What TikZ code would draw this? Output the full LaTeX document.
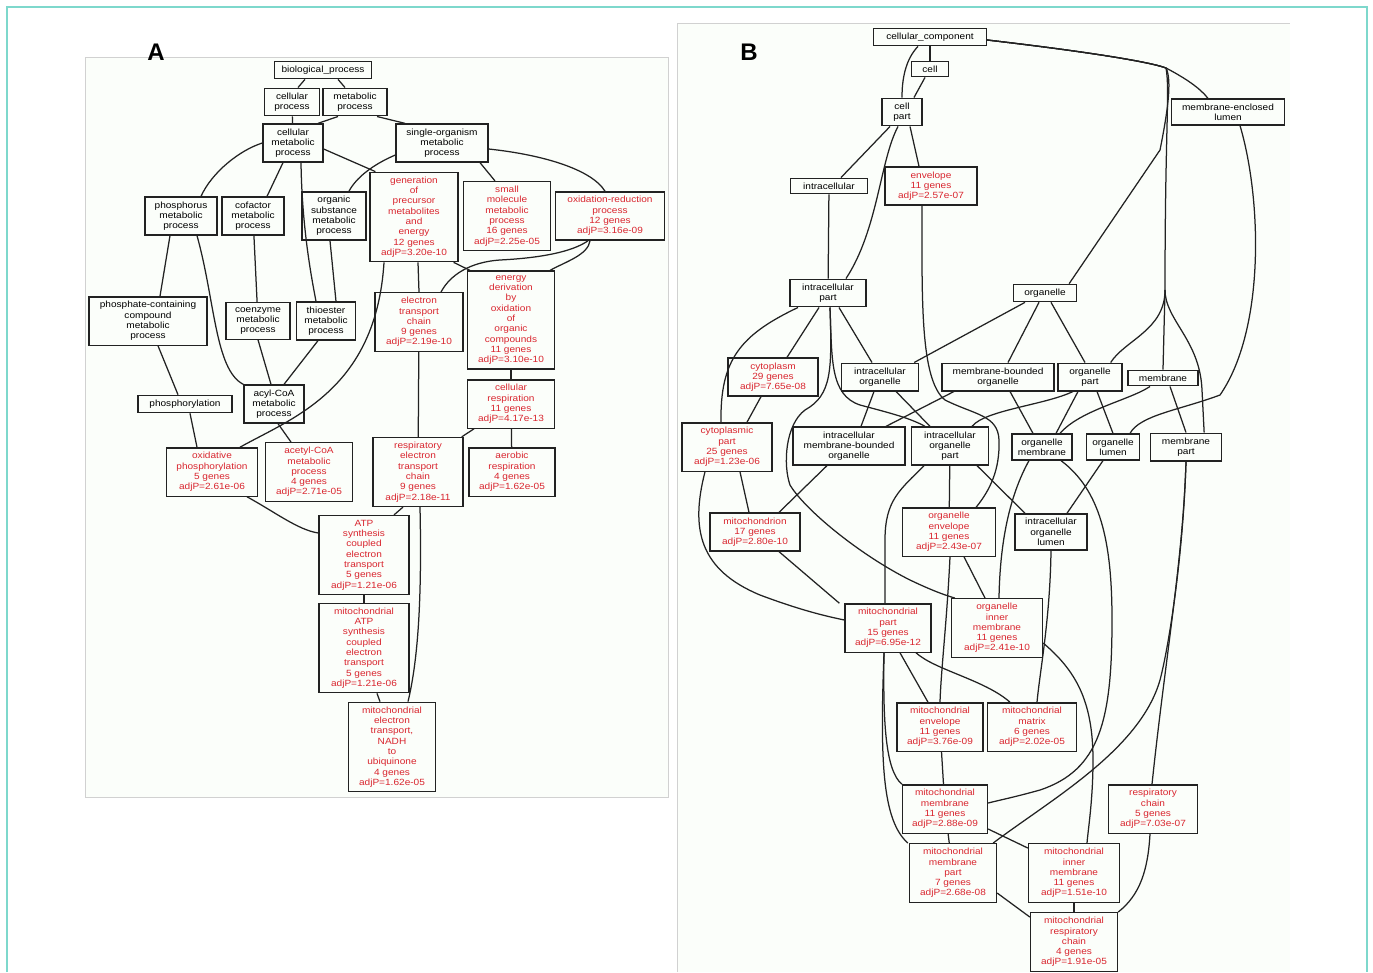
\documentclass[tikz,border=0pt]{standalone}
\usepackage{fontspec}
\newfontfamily\gofont{Liberation Sans}[FakeStretch=1.12]
\newfontfamily\labfont{Liberation Sans}
\usepackage{xcolor}
\definecolor{sigred}{HTML}{D9262F}
\definecolor{boxline}{HTML}{222222}
\definecolor{frameteal}{HTML}{7ED8CC}
\definecolor{panelbg}{HTML}{FBFEFA}
\usepackage{tikz}

\begin{document}
\begin{tikzpicture}[x=1pt, y=1pt,
  term/.style={draw=boxline, line width=1.3pt, align=center, inner xsep=2pt, inner ysep=4.5pt,
    font=\gofont\fontsize{9}{10.3}\selectfont, minimum width=#1},
  hit/.style={term=#1, text=sigred},
  link/.style={draw=boxline, line width=1.25pt},
  panel/.style={font=\labfont\bfseries\fontsize{24}{24}\selectfont}
]
  \useasboundingbox (0,0) rectangle (1373,-972);

  % Frame and panels
  \draw[frameteal, line width=2pt] (7,-972) -- (7,-7) -- (1367,-7) -- (1367,-972);
  \draw[black!18, fill=panelbg, line width=0.6pt] (85,-57) rectangle (668,-797);
  \fill[panelbg] (677,-23) rectangle (1290,-972);
  \draw[black!18, line width=0.6pt] (677,-972) -- (677,-23) -- (1290,-23);
  \node[panel] (labA) at (156,-52) {A};
  \node[panel] (labB) at (749,-52) {B};

  % A: biological process
  \node[term=97] (bp) at (323,-70) {biological\_process};
  \node[term=55] (cp) at (292,-102) {cellular\\process};
  \node[term=64] (mp) at (355,-102) {metabolic\\process};
  \node[term=60] (cmp) at (293,-143) {cellular\\metabolic\\process};
  \node[term=92] (somp) at (442,-143) {single-organism\\metabolic\\process};
  \node[term=72] (phos) at (181,-216) {phosphorus\\metabolic\\process};
  \node[term=62] (cof) at (253,-216) {cofactor\\metabolic\\process};
  \node[term=64] (orgs) at (334,-216) {organic\\substance\\metabolic\\process};
  \node[hit=88] (gen) at (414,-217) {generation\\of\\precursor\\metabolites\\and\\energy\\12 genes\\adjP=3.20e-10};
  \node[hit=87] (smm) at (507,-216) {small\\molecule\\metabolic\\process\\16 genes\\adjP=2.25e-05};
  \node[hit=109] (oxr) at (610,-216) {oxidation-reduction\\process\\12 genes\\adjP=3.16e-09};
  \node[term=118] (phc) at (148,-321) {phosphate-containing\\compound\\metabolic\\process};
  \node[term=64] (coe) at (258,-321) {coenzyme\\metabolic\\process};
  \node[term=59] (thio) at (326,-321) {thioester\\metabolic\\process};
  \node[hit=88] (etc) at (419,-322) {electron\\transport\\chain\\9 genes\\adjP=2.19e-10};
  \node[hit=87] (ender) at (511,-320) {energy\\derivation\\by\\oxidation\\of\\organic\\compounds\\11 genes\\adjP=3.10e-10};
  \node[term=94] (phosn) at (185,-404) {phosphorylation};
  \node[term=60] (acyl) at (274,-404) {acyl-CoA\\metabolic\\process};
  \node[hit=87] (cresp) at (511,-404) {cellular\\respiration\\11 genes\\adjP=4.17e-13};
  \node[hit=91] (oxph) at (212,-472) {oxidative\\phosphorylation\\5 genes\\adjP=2.61e-06};
  \node[hit=87] (acet) at (309,-472) {acetyl-CoA\\metabolic\\process\\4 genes\\adjP=2.71e-05};
  \node[hit=90] (retc) at (418,-472) {respiratory\\electron\\transport\\chain\\9 genes\\adjP=2.18e-11};
  \node[hit=86] (aer) at (512,-472) {aerobic\\respiration\\4 genes\\adjP=1.62e-05};
  \node[hit=90] (atp) at (364,-555) {ATP\\synthesis\\coupled\\electron\\transport\\5 genes\\adjP=1.21e-06};
  \node[hit=90] (matp) at (364,-648) {mitochondrial\\ATP\\synthesis\\coupled\\electron\\transport\\5 genes\\adjP=1.21e-06};
  \node[hit=87] (nadh) at (392,-747) {mitochondrial\\electron\\transport,\\NADH\\to\\ubiquinone\\4 genes\\adjP=1.62e-05};

  % A: edges
  \draw[link] ([xshift=-18]bp.south) -- ([xshift=6]cp.north);
  \draw[link] ([xshift=15]bp.south) -- ([xshift=-10]mp.north);
  \draw[link] (cp) -- (cmp);
  \draw[link] ([xshift=-17]mp.south) -- ([xshift=25]cmp.north);
  \draw[link] ([xshift=22]mp.south) -- ([xshift=-37]somp.north);
  \draw[link] (cmp.west) .. controls (240,-150) and (212,-172) .. ([xshift=20]phos.north);
  \draw[link] ([xshift=-10]cmp.south) -- ([xshift=14]cof.north);
  \draw[link] ([xshift=8]cmp.south) .. controls (302,-230) and (312,-280) .. ([xshift=-10]thio.north);
  \draw[link] ([yshift=-6]cmp.east) -- ([xshift=6]gen.north west);
  \draw[link] ([yshift=-12]somp.west) .. controls (372,-165) and (356,-178) .. ([xshift=15]orgs.north);
  \draw[link] ([xshift=38]somp.south) -- ([xshift=-12]smm.north);
  \draw[link] ([yshift=-6]somp.east) .. controls (545,-155) and (592,-170) .. ([xshift=-5]oxr.north);
  \draw[link] ([xshift=-11]phos.south) -- ([xshift=12]phc.north);
  \draw[link] ([xshift=16]phos.south) .. controls (215,-300) and (215,-370) .. (acyl.north west);
  \draw[link] (cof) -- (coe);
  \draw[link] ([xshift=-4]orgs.south) -- ([xshift=10]thio.north);
  \draw[link] (coe.south) -- ([xshift=-3]acyl.north);
  \draw[link] ([xshift=-8]thio.south) -- ([xshift=10]acyl.north);
  \draw[link] ([xshift=10]phc.south) -- ([xshift=-7]phosn.north);
  \draw[link] ([xshift=5]phosn.south) -- ([xshift=-15]oxph.north);
  \draw[link] ([xshift=4]acyl.south) -- ([xshift=-18]acet.north);
  \draw[link] ([xshift=-30]gen.south) .. controls (376,-390) and (292,-418) .. ([xshift=28]oxph.north);
  \draw[link] ([xshift=4]gen.south) -- (etc.north);
  \draw[link] ([xshift=-5]gen.south east) -- ([xshift=3]ender.north west);
  \draw[link] ([xshift=22]etc.north) .. controls (450,-275) and (470,-262) .. (500,-260)
    .. controls (540,-258) and (572,-252) .. ([xshift=-22]oxr.south);
  \draw[link] ([xshift=-20]oxr.south) .. controls (588,-255) and (565,-262) .. ([xshift=-5]ender.north east);
  \draw[link] (etc) -- (retc);
  \draw[link] (ender) -- (cresp);
  \draw[link] ([xshift=-37]cresp.south) -- ([xshift=-2]retc.north east);
  \draw[link] (cresp) -- (aer);
  \draw[link] ([xshift=35]oxph.south) .. controls (275,-512) and (298,-530) .. ([yshift=22]atp.west);
  \draw[link] ([xshift=-15]retc.south) -- ([xshift=30]atp.north);
  \draw[link] ([xshift=2]retc.south) .. controls (422,-600) and (418,-660) .. ([xshift=16]nadh.north);
  \draw[link] (atp) -- (matp);
  \draw[link] ([xshift=13]matp.south) -- ([xshift=-12]nadh.north);

  % B: cellular component
  \node[term=113] (cc) at (930,-37) {cellular\_component};
  \node[term=37] (cell) at (930,-69) {cell};
  \node[term=40] (cpart) at (902,-112) {cell\\part};
  \node[term=113] (mel) at (1228,-112) {membrane-enclosed\\lumen};
  \node[term=77] (intra) at (829,-186) {intracellular};
  \node[hit=92] (env) at (931,-186) {envelope\\11 genes\\adjP=2.57e-07};
  \node[term=76] (ipart) at (828,-293) {intracellular\\part};
  \node[term=63] (org) at (1045,-293) {organelle};
  \node[hit=90] (cyto) at (773,-377) {cytoplasm\\29 genes\\adjP=7.65e-08};
  \node[term=77] (iorg) at (880,-377) {intracellular\\organelle};
  \node[term=112] (mbo) at (998,-377) {membrane-bounded\\organelle};
  \node[term=64] (opart) at (1090,-377) {organelle\\part};
  \node[term=70] (memb) at (1163,-378) {membrane};
  \node[hit=90] (cytp) at (727,-447) {cytoplasmic\\part\\25 genes\\adjP=1.23e-06};
  \node[term=112] (imbo) at (849,-446) {intracellular\\membrane-bounded\\organelle};
  \node[term=77] (iop) at (950,-446) {intracellular\\organelle\\part};
  \node[term=60] (omem) at (1042,-447) {organelle\\membrane};
  \node[term=53] (olum) at (1113,-447) {organelle\\lumen};
  \node[term=71] (mpart) at (1186,-447) {membrane\\part};
  \node[hit=90] (mito) at (755,-532) {mitochondrion\\17 genes\\adjP=2.80e-10};
  \node[hit=93] (oenv) at (949,-532) {organelle\\envelope\\11 genes\\adjP=2.43e-07};
  \node[term=72] (iol) at (1051,-532) {intracellular\\organelle\\lumen};
  \node[hit=86] (mtp) at (888,-628) {mitochondrial\\part\\15 genes\\adjP=6.95e-12};
  \node[hit=91] (oim) at (997,-628) {organelle\\inner\\membrane\\11 genes\\adjP=2.41e-10};
  \node[hit=86] (menv) at (940,-727) {mitochondrial\\envelope\\11 genes\\adjP=3.76e-09};
  \node[hit=89] (mmat) at (1032,-727) {mitochondrial\\matrix\\6 genes\\adjP=2.02e-05};
  \node[hit=85] (mmem) at (945,-809) {mitochondrial\\membrane\\11 genes\\adjP=2.88e-09};
  \node[hit=89] (rch) at (1153,-809) {respiratory\\chain\\5 genes\\adjP=7.03e-07};
  \node[hit=87] (mmp) at (953,-873) {mitochondrial\\membrane\\part\\7 genes\\adjP=2.68e-08};
  \node[hit=91] (mim) at (1074,-873) {mitochondrial\\inner\\membrane\\11 genes\\adjP=1.51e-10};
  \node[hit=87] (mrc) at (1074,-942) {mitochondrial\\respiratory\\chain\\4 genes\\adjP=1.91e-05};

  % B: edges
  \coordinate (ccsplit) at (1166,-68);
  \coordinate (cctrunk) at (1165,-290);
  \draw[link] (cc) -- (cell);
  \draw[link] ([xshift=-12]cc.south) .. controls (905,-60) and (902,-80) .. (cpart.north);
  \draw[link] ([xshift=-5]cell.south) -- ([xshift=12]cpart.north);
  \draw[link] ([yshift=-3]cc.east) .. controls (1090,-52) and (1150,-62) .. (ccsplit)
    .. controls (1185,-78) and (1200,-88) .. ([xshift=-20]mel.north);
  \draw[link] ([yshift=-3]cc.east) .. controls (1090,-52) and (1150,-62) .. (ccsplit)
    .. controls (1172,-80) and (1168,-110) .. (1160,-150) -- ([xshift=-8]org.north east);
  \draw[link] ([yshift=-3]cc.east) .. controls (1090,-52) and (1150,-62) .. (ccsplit)
    .. controls (1170,-90) and (1165,-130) .. (cctrunk) -- (memb.north);
  \draw[link] (cctrunk) .. controls (1165,-330) and (1125,-340) .. ([xshift=-12]opart.north east);
  \draw[link] (cctrunk) .. controls (1165,-320) and (1200,-340) .. (1202,-390) -- ([xshift=-18]mpart.north east);
  \draw[link] ([xshift=-12]cpart.south) -- ([xshift=12]intra.north);
  \draw[link] ([xshift=-4]cpart.south) .. controls (880,-160) and (878,-230) .. ([xshift=18]ipart.north);
  \draw[link] ([xshift=8]cpart.south) -- ([xshift=-12]env.north);
  \draw[link] (intra) -- (ipart);
  \draw[link] ([xshift=12]mel.south) .. controls (1262,-200) and (1265,-330) .. (1220,-395)
    .. controls (1180,-410) and (1140,-415) .. ([xshift=17]olum.north);
  \draw[link] ([xshift=-30]ipart.south) .. controls (740,-335) and (720,-360) .. ([xshift=-6]cytp.north);
  \draw[link] ([xshift=-9]ipart.south) -- ([xshift=14]cyto.north);
  \draw[link] ([xshift=11]ipart.south) -- ([xshift=-8]iorg.north);
  \draw[link] ([xshift=2]ipart.south) .. controls (832,-360) and (830,-395) .. (860,-405)
    .. controls (890,-413) and (910,-418) .. ([xshift=-25]iop.north);
  \draw[link] ([xshift=2]ipart.south) .. controls (832,-370) and (832,-395) .. (805,-410)
    .. controls (785,-425) and (783,-465) .. (790,-485)
    .. controls (805,-510) and (860,-555) .. (910,-580)
    .. controls (935,-592) and (948,-596) .. ([xshift=4]oim.north west);
  \draw[link] ([xshift=-20]org.south) -- ([xshift=-5]iorg.north east);
  \draw[link] ([xshift=-6]org.south) -- ([xshift=10]mbo.north);
  \draw[link] ([xshift=6]org.south) -- ([xshift=-5]opart.north);
  \draw[link] ([xshift=-12]cyto.south) -- ([xshift=20]cytp.north);
  \draw[link] ([xshift=-6]iorg.south) -- ([xshift=12]imbo.north);
  \draw[link] ([xshift=16]iorg.south) -- ([xshift=-20]iop.north);
  \draw[link] ([xshift=-44]mbo.south) -- ([xshift=37]imbo.north);
  \draw[link] ([xshift=12]mbo.south) -- ([xshift=-9]omem.north);
  \draw[link] ([xshift=-17]opart.south) .. controls (1045,-405) and (985,-410) .. ([xshift=22]iop.north);
  \draw[link] ([xshift=-12]opart.south) -- ([xshift=14]omem.north);
  \draw[link] ([xshift=7]opart.south) -- (olum.north);
  \draw[link] ([xshift=-13]memb.south) .. controls (1130,-400) and (1080,-410) .. ([xshift=18]omem.north);
  \draw[link] ([xshift=7]memb.south) -- (mpart.north);
  \draw[link] ([xshift=-9]env.south) .. controls (922,-300) and (920,-380) .. (945,-400)
    .. controls (975,-415) and (998,-415) .. (999,-440)
    .. controls (1000,-470) and (990,-490) .. ([xshift=-20]oenv.north east);
  \draw[link] ([xshift=13]cytp.south) -- ([xshift=-6]mito.north);
  \draw[link] ([xshift=-22]cytp.south) .. controls (690,-530) and (700,-570) .. (760,-595)
    .. controls (800,-610) and (825,-616) .. ([yshift=8]mtp.west);
  \draw[link] ([xshift=-22]imbo.south) -- ([xshift=24]mito.north);
  \draw[link] ([xshift=-26]iop.south) .. controls (900,-490) and (885,-500) .. (885,-540) -- ([xshift=-3]mtp.north);
  \draw[link] (iop) -- (oenv);
  \draw[link] ([xshift=27]iop.south) -- ([xshift=-26]iol.north);
  \draw[link] ([xshift=-13]omem.south) .. controls (1010,-495) and (1000,-540) .. ([xshift=2]oim.north);
  \draw[link] ([xshift=19]omem.south) .. controls (1100,-490) and (1112,-540) .. (1112,-620)
    .. controls (1112,-720) and (1100,-770) .. (1040,-790)
    .. controls (1015,-797) and (1000,-800) .. ([yshift=6]mmem.east);
  \draw[link] ([xshift=-10]olum.south) -- ([xshift=16]iol.north);
  \draw[link] (mpart.south) .. controls (1183,-560) and (1165,-660) .. ([xshift=-1]rch.north);
  \draw[link] (mpart.south) .. controls (1183,-560) and (1168,-650) .. (1160,-680)
    .. controls (1140,-750) and (1050,-800) .. ([xshift=-4]mmp.north east);
  \draw[link] ([xshift=24]mito.south) -- ([xshift=-5]mtp.north west);
  \draw[link] ([xshift=15]oenv.south) -- ([xshift=-12]oim.north);
  \draw[link] ([xshift=1]oenv.south) .. controls (947,-620) and (941,-670) .. (menv.north);
  \draw[link] (iol.south) .. controls (1050,-620) and (1040,-670) .. ([xshift=5]mmat.north);
  \draw[link] ([xshift=12]mtp.south) -- ([xshift=-12]menv.north);
  \draw[link] ([xshift=28]mtp.south) .. controls (935,-670) and (985,-680) .. ([xshift=-22]mmat.north);
  \draw[link] ([xshift=-4]mtp.south) .. controls (883,-720) and (885,-770) .. (mmem.north west);
  \draw[link] ([xshift=-4]mtp.south) .. controls (880,-760) and (882,-820) .. ([xshift=-1]mmp.north west);
  \draw[link] ([yshift=-15]oim.east) .. controls (1075,-670) and (1093,-700) .. (1093,-760)
    .. controls (1093,-800) and (1088,-830) .. ([xshift=13]mim.north);
  \draw[link] (menv) -- (mmem);
  \draw[link] (mmem) -- (mmp);
  \draw[link] ([yshift=-20]mmem.east) -- ([yshift=-5]mim.north west);
  \draw[link] ([yshift=-20]mmp.east) -- ([yshift=-5]mrc.north west);
  \draw[link] (mim) -- (mrc);
  \draw[link] ([xshift=-3]rch.south) .. controls (1148,-870) and (1140,-895) .. (mrc.north east);

\end{tikzpicture}
\end{document}
